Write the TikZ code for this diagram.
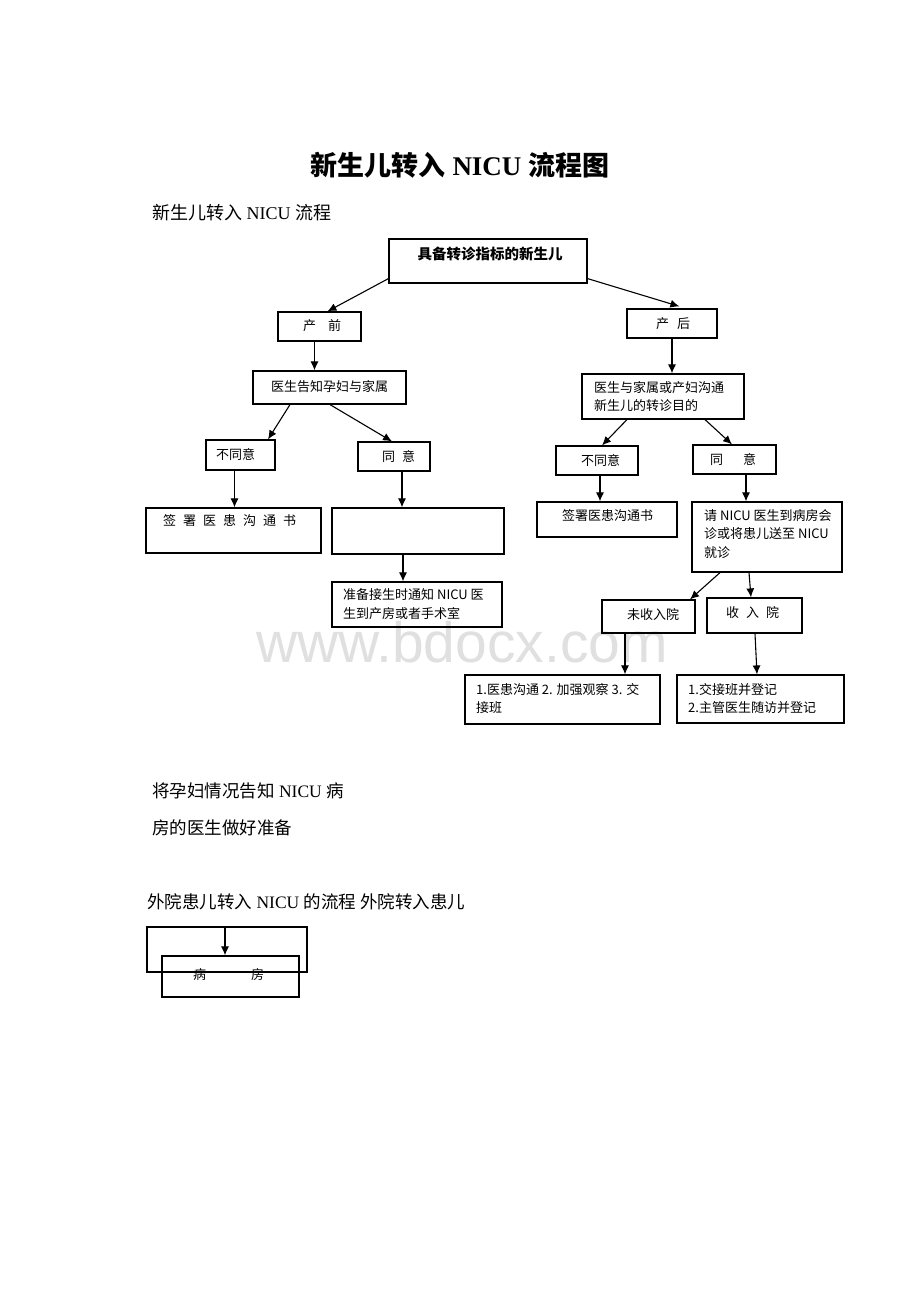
\documentclass[tikz,border=0pt]{standalone}
\usepackage{fontspec}
\setmainfont{Liberation Serif}
\newfontfamily\cjk{Noto Sans CJK SC}
\newfontfamily\wmfont{Liberation Sans}
\usetikzlibrary{arrows.meta}
\newcommand\zh[1]{{\cjk #1}}
\begin{document}
\begin{tikzpicture}[x=1pt,y=-1pt,
  box/.style={draw, line width=1.2pt, inner sep=0pt},
  txt/.style={font=\cjk\fontsize{13}{18.5}\selectfont, inner sep=0pt, anchor=west, align=left},
  ser/.style={font=\fontsize{18}{22}\selectfont, inner sep=0pt, anchor=west},
  arr/.style={-{Latex[length=9pt,width=8pt]}, line width=1.1pt}]
\useasboundingbox[fill=white] (0,0) rectangle (920,1302);
% watermark
\node[font=\wmfont\fontsize{57}{60}\selectfont, text=black!12, inner sep=0pt, anchor=base] (wm) at (462,662) {www.bdocx.com};
% headings
\node[font=\bfseries\fontsize{27}{30}\selectfont, inner sep=0pt] (title) at (460,165) {\zh{新生儿转入} NICU \zh{流程图}};
\node[ser] (sub) at (152,213) {\zh{新生儿转入} NICU \zh{流程}};
% boxes
\node[box, minimum width=198pt, minimum height=44pt] (top) at (488,261) {};
\node[box, minimum width=83pt, minimum height=29pt] (pre) at (319.5,326.5) {};
\node[box, minimum width=90pt, minimum height=29pt] (post) at (672,323.5) {};
\node[box, minimum width=153pt, minimum height=33pt] (tell) at (329.5,387.5) {};
\node[box, minimum width=162pt, minimum height=45pt] (comm) at (663,396.5) {};
\node[box, minimum width=69pt, minimum height=30pt] (ldis) at (240.5,455) {};
\node[box, minimum width=72pt, minimum height=29pt] (lagr) at (394,456.5) {};
\node[box, minimum width=82pt, minimum height=29pt] (rdis) at (597,460.5) {};
\node[box, minimum width=83pt, minimum height=29pt] (ragr) at (734.5,459.5) {};
\node[box, minimum width=175pt, minimum height=45pt] (lsign) at (233.5,530.5) {};
\node[box, minimum width=172pt, minimum height=46pt] (empty) at (418,531) {};
\node[box, minimum width=140pt, minimum height=35pt] (rsign) at (607,519.5) {};
\node[box, minimum width=150pt, minimum height=70pt] (invite) at (767,537) {};
\node[box, minimum width=170pt, minimum height=45pt] (prep) at (417,604.5) {};
\node[box, minimum width=93pt, minimum height=33pt] (notadm) at (648.5,616.5) {};
\node[box, minimum width=95pt, minimum height=35pt] (adm) at (754.5,615.5) {};
\node[box, minimum width=195pt, minimum height=49pt] (res1) at (562.5,699.5) {};
\node[box, minimum width=167pt, minimum height=48pt] (res2) at (760.5,699) {};
% box texts
\node[txt, font=\cjk\bfseries\fontsize{14.5}{18}\selectfont, anchor=center] (ttop) at (490,254) {具备转诊指标的新生儿};
\node[txt] (tpre) at (303,326) {产\hspace{12pt}前};
\node[txt] (tpost) at (656,324) {产\hspace{8pt}后};
\node[txt] (ttell) at (271,387) {医生告知孕妇与家属};
\node[txt] (tcomm) at (594,396.5) {医生与家属或产妇沟通\\新生儿的转诊目的};
\node[txt] (tldis) at (216,455) {不同意};
\node[txt] (tlagr) at (382,457) {同\hspace{7pt}意};
\node[txt] (trdis) at (581,461) {不同意};
\node[txt] (tragr) at (710,460) {同\hspace{20pt}意};
\node[txt] (tlsign) at (163,521) {签\hspace{7pt}署\hspace{7pt}医\hspace{7pt}患\hspace{7pt}沟\hspace{7pt}通\hspace{7pt}书};
\node[txt] (trsign) at (562,516) {签署医患沟通书};
\node[txt] (tinvite) at (704,534) {请 NICU 医生到病房会\\诊或将患儿送至 NICU\\就诊};
\node[txt] (tprep) at (343,604) {准备接生时通知 NICU 医\\生到产房或者手术室};
\node[txt] (tnotadm) at (627,615) {未收入院};
\node[txt] (tadm) at (726,613) {收\hspace{7pt}入\hspace{7pt}院};
\node[txt] (tres1) at (476,698.5) {1.医患沟通 2. 加强观察 3. 交\\接班};
\node[txt] (tres2) at (688,698.5) {1.交接班并登记\\2.主管医生随访并登记};
% arrows
\draw[arr] ([yshift=5pt]top.south west) -- ([xshift=50pt]pre.north west);
\draw[arr] ([yshift=5pt]top.south east) -- ([xshift=53pt,yshift=2pt]post.north west);
\draw[arr] ([xshift=-5pt]pre.south) -- ([xshift=-15pt]tell.north);
\draw[arr] (post.south) -- ([xshift=9pt]comm.north);
\draw[arr] ([xshift=-39.5pt]tell.south) -- ([xshift=27.5pt]ldis.north);
\draw[arr] ([xshift=0.5pt]tell.south) -- ([xshift=-2pt]lagr.north);
\draw[arr] ([xshift=-6pt]ldis.south) -- ([xshift=1pt]lsign.north);
\draw[arr] ([xshift=8pt]lagr.south) -- ([xshift=-16pt]empty.north);
\draw[arr] ([xshift=-15pt]empty.south) -- ([xshift=-14pt]prep.north);
\draw[arr] ([xshift=-36pt]comm.south) -- ([xshift=5pt]rdis.north);
\draw[arr] ([xshift=42pt]comm.south) -- ([xshift=-2.5pt]ragr.north);
\draw[arr] ([xshift=3pt]rdis.south) -- ([xshift=-7pt]rsign.north);
\draw[arr] ([xshift=11.5pt]ragr.south) -- ([xshift=-21pt]invite.north);
\draw[arr] ([xshift=-47pt]invite.south) -- ([xshift=41.5pt]notadm.north);
\draw[arr] ([xshift=-18pt]invite.south) -- ([xshift=-3.5pt]adm.north);
\draw[arr] ([xshift=-23.5pt]notadm.south) -- ([xshift=-23.5pt]notadm.south |- res1.north);
\draw[arr] ([xshift=0.5pt]adm.south) -- ([xshift=-3.5pt]res2.north);
% lower texts
\node[ser, font=\fontsize{17.5}{22}\selectfont] (n1) at (152,791) {\zh{将孕妇情况告知} NICU \zh{病}};
\node[ser, font=\fontsize{17.5}{22}\selectfont] (n2) at (152,828) {\zh{房的医生做好准备}};
\node[ser, font=\fontsize{17.5}{22}\selectfont] (n3) at (147,902) {\zh{外院患儿转入} NICU \zh{的流程 外院转入患儿}};
% bottom boxes
\node[box, minimum width=160pt, minimum height=45pt] (outer) at (227,949.5) {};
\node[box, minimum width=137pt, minimum height=41pt] (ward) at (230.5,976.5) {};
\node[txt, anchor=center] (tward) at (228.5,975) {病\hspace{45pt}房};
\draw[arr] ([xshift=-2pt]outer.north) -- ([xshift=-5.5pt]ward.north);
\end{tikzpicture}
\end{document}
